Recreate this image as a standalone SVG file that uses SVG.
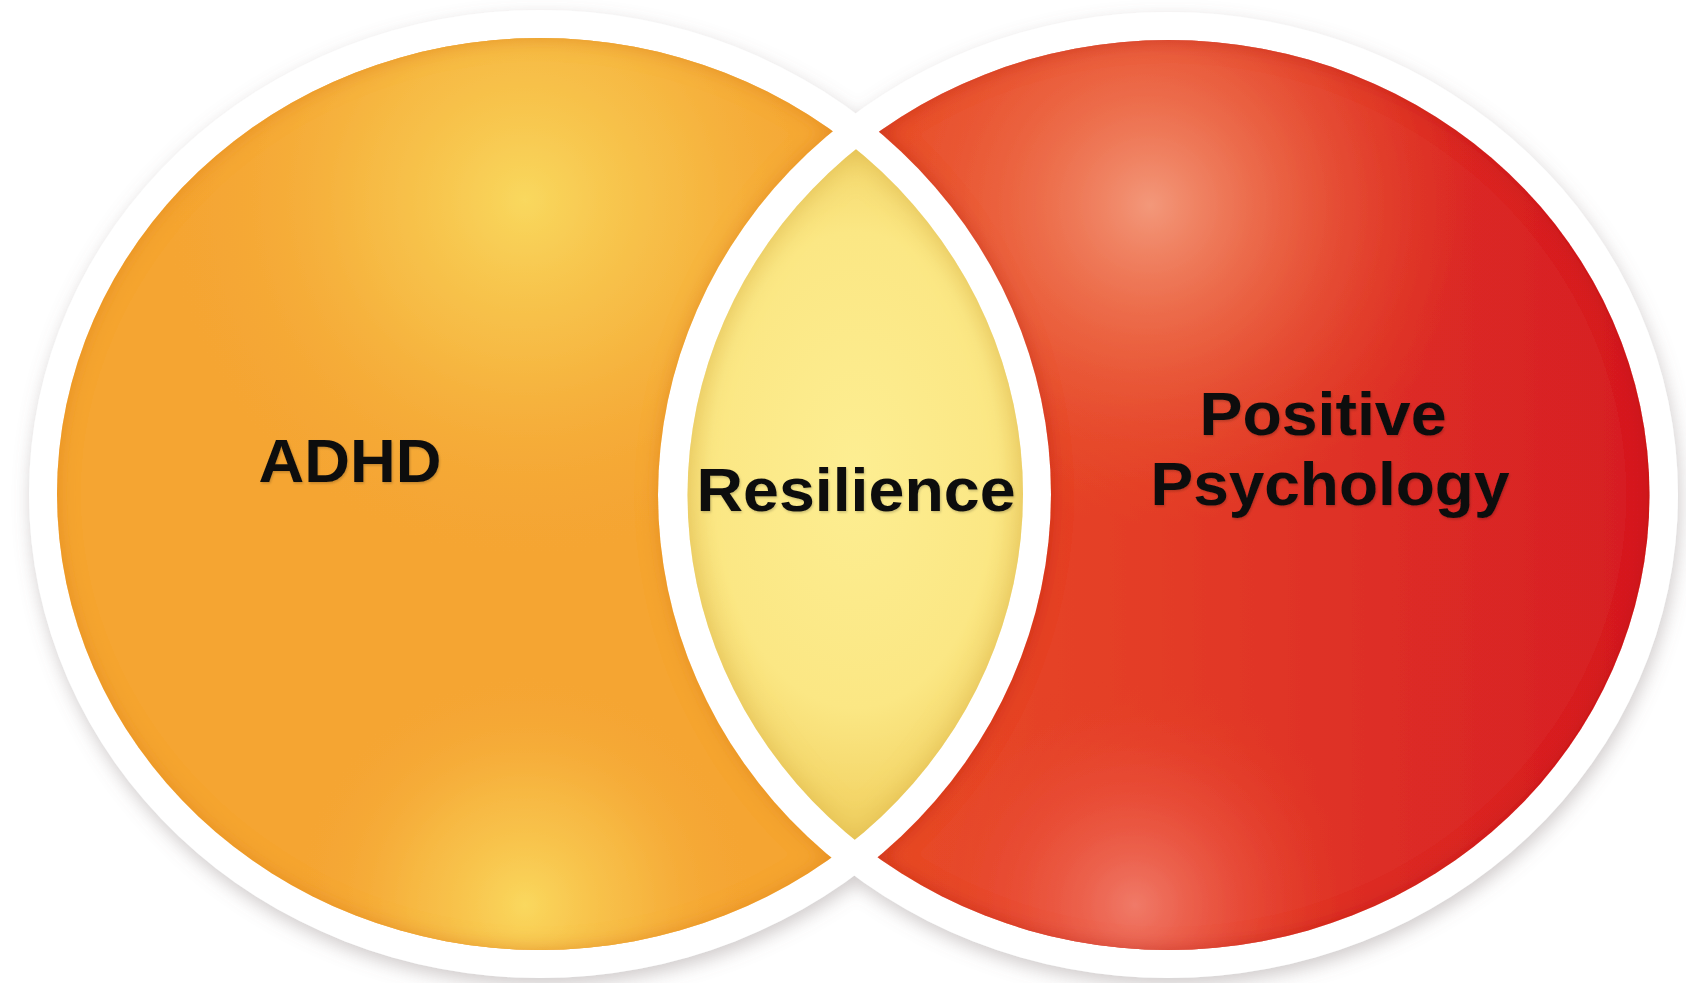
<svg xmlns="http://www.w3.org/2000/svg" width="1686" height="983" viewBox="0 0 1686 983">
  <style>
    .lbl { font-family: "Liberation Sans", Arial, sans-serif; font-weight: bold; font-size: 61px; fill: #111111; text-anchor: middle; }
    .ring { fill: #ffffff; }
  </style>
  <defs>
    <filter id="drop" x="-10%" y="-10%" width="120%" height="125%">
      <feDropShadow dx="2" dy="7" stdDeviation="9" flood-color="#7a6a6a" flood-opacity="0.35"/>
    </filter>
    <filter id="innerOrange" x="-5%" y="-5%" width="110%" height="110%">
      <feFlood flood-color="#e2881c" flood-opacity="0.85"/>
      <feComposite in2="SourceAlpha" operator="out"/>
      <feGaussianBlur stdDeviation="10"/>
      <feComposite in2="SourceAlpha" operator="in" result="sh"/>
      <feMerge><feMergeNode in="SourceGraphic"/><feMergeNode in="sh"/></feMerge>
    </filter>
    <filter id="innerRed" x="-5%" y="-5%" width="110%" height="110%">
      <feFlood flood-color="#b81818" flood-opacity="0.6"/>
      <feComposite in2="SourceAlpha" operator="out"/>
      <feGaussianBlur stdDeviation="10"/>
      <feComposite in2="SourceAlpha" operator="in" result="sh"/>
      <feMerge><feMergeNode in="SourceGraphic"/><feMergeNode in="sh"/></feMerge>
    </filter>
    <filter id="innerYellow" x="-10%" y="-5%" width="120%" height="110%">
      <feFlood flood-color="#d8b040" flood-opacity="0.75"/>
      <feComposite in2="SourceAlpha" operator="out"/>
      <feGaussianBlur stdDeviation="14"/>
      <feComposite in2="SourceAlpha" operator="in" result="sh"/>
      <feMerge><feMergeNode in="SourceGraphic"/><feMergeNode in="sh"/></feMerge>
    </filter>
    <filter id="txtShadow" x="-10%" y="-20%" width="120%" height="140%">
      <feDropShadow dx="1" dy="1.5" stdDeviation="1.2" flood-color="#000000" flood-opacity="0.2"/>
    </filter>

    <mask id="maskL" maskUnits="userSpaceOnUse" x="0" y="0" width="1686" height="983">
      <rect width="1686" height="983" fill="#fff"/>
      <ellipse cx="1168" cy="495" rx="510" ry="483" fill="#000"/>
    </mask>
    <mask id="maskR" maskUnits="userSpaceOnUse" x="0" y="0" width="1686" height="983">
      <rect width="1686" height="983" fill="#fff"/>
      <ellipse cx="540" cy="494" rx="511" ry="484" fill="#000"/>
    </mask>
    <clipPath id="clipLInner">
      <ellipse cx="540" cy="494" rx="483" ry="456"/>
    </clipPath>

    <radialGradient id="gLTop" gradientUnits="userSpaceOnUse" cx="525" cy="200" r="360">
      <stop offset="0" stop-color="#f9d85e" stop-opacity="1"/>
      <stop offset="0.45" stop-color="#f7c24a" stop-opacity="0.7"/>
      <stop offset="1" stop-color="#f5a633" stop-opacity="0"/>
    </radialGradient>
    <radialGradient id="gLBot" gradientUnits="userSpaceOnUse" cx="525" cy="905" r="230">
      <stop offset="0" stop-color="#fad85e" stop-opacity="1"/>
      <stop offset="0.5" stop-color="#f8c44c" stop-opacity="0.6"/>
      <stop offset="1" stop-color="#f5a633" stop-opacity="0"/>
    </radialGradient>

    <linearGradient id="gRBase" gradientUnits="userSpaceOnUse" x1="700" y1="0" x2="1650" y2="0">
      <stop offset="0" stop-color="#ea562a"/>
      <stop offset="0.45" stop-color="#e43e26"/>
      <stop offset="1" stop-color="#d61d24"/>
    </linearGradient>
    <radialGradient id="gRTop" gradientUnits="userSpaceOnUse" cx="1150" cy="205" r="320">
      <stop offset="0" stop-color="#f3987a" stop-opacity="1"/>
      <stop offset="0.45" stop-color="#ef7850" stop-opacity="0.6"/>
      <stop offset="1" stop-color="#e9552a" stop-opacity="0"/>
    </radialGradient>
    <radialGradient id="gRBot" gradientUnits="userSpaceOnUse" cx="1135" cy="905" r="230">
      <stop offset="0" stop-color="#f07a68" stop-opacity="1"/>
      <stop offset="0.5" stop-color="#ec5a45" stop-opacity="0.5"/>
      <stop offset="1" stop-color="#e43c26" stop-opacity="0"/>
    </radialGradient>

    <radialGradient id="gLens" gradientUnits="userSpaceOnUse" cx="855" cy="470" r="340" gradientTransform="translate(855 470) scale(0.6 1) translate(-855 -470)">
      <stop offset="0" stop-color="#fdee92"/>
      <stop offset="0.7" stop-color="#fbe784"/>
      <stop offset="1" stop-color="#f3d466"/>
    </radialGradient>
  </defs>

  <rect width="1686" height="983" fill="#ffffff"/>

  <!-- white rings with soft shadow -->
  <g id="rings" filter="url(#drop)">
    <ellipse class="ring" cx="540" cy="494" rx="511" ry="484"/>
    <ellipse class="ring" cx="1168" cy="495" rx="510" ry="483"/>
  </g>

  <!-- ADHD set -->
  <g id="node-adhd">
    <g filter="url(#innerOrange)">
      <g mask="url(#maskL)">
        <ellipse cx="540" cy="494" rx="483" ry="456" fill="#f5a533"/>
        <ellipse cx="540" cy="494" rx="483" ry="456" fill="url(#gLTop)"/>
        <ellipse cx="540" cy="494" rx="483" ry="456" fill="url(#gLBot)"/>
      </g>
    </g>
    <text class="lbl" x="350" y="482" textLength="183" lengthAdjust="spacingAndGlyphs" filter="url(#txtShadow)">ADHD</text>
  </g>

  <!-- Positive Psychology set -->
  <g id="node-positive-psychology">
    <g filter="url(#innerRed)">
      <g mask="url(#maskR)">
        <ellipse cx="1168.5" cy="495" rx="481" ry="455" fill="url(#gRBase)"/>
        <ellipse cx="1168.5" cy="495" rx="481" ry="455" fill="url(#gRTop)"/>
        <ellipse cx="1168.5" cy="495" rx="481" ry="455" fill="url(#gRBot)"/>
      </g>
    </g>
    <text class="lbl" x="1323" y="435" textLength="247" lengthAdjust="spacingAndGlyphs" filter="url(#txtShadow)">Positive</text>
    <text class="lbl" x="1330" y="505" textLength="359" lengthAdjust="spacingAndGlyphs" filter="url(#txtShadow)">Psychology</text>
  </g>

  <!-- Resilience overlap -->
  <g id="node-resilience">
    <g filter="url(#innerYellow)">
      <g clip-path="url(#clipLInner)">
        <ellipse cx="1168.5" cy="495" rx="481" ry="455" fill="url(#gLens)"/>
      </g>
    </g>
    <text class="lbl" x="856" y="511" textLength="319" lengthAdjust="spacingAndGlyphs" filter="url(#txtShadow)">Resilience</text>
  </g>
</svg>
